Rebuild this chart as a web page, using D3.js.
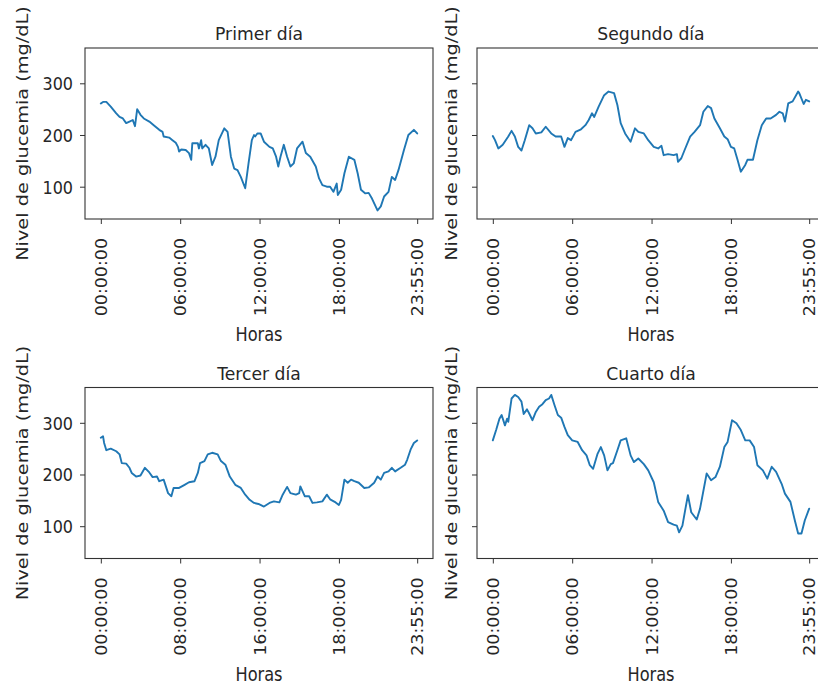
<!DOCTYPE html>
<html>
<head>
<meta charset="utf-8">
<script src="https://cdn.jsdelivr.net/npm/d3@7"></script>
<style>
  body { margin: 0; background: #fff; }
  svg { display: block; }
</style>
</head>
<body>
<svg id="chart" width="818" height="684"></svg>
<script>
// Glucose readings (mg/dL) per day, keyed by 5-minute sample number (0 = 00:00, 287 = 23:55)
const primerMuestra = [0,2,5,9,14,17,20,23,26,29,31,33,36,39,44,48,53,56,57,62,65,68,70,71,73,77,80,82,83,88,89,91,92,95,98,101,104,107,112,115,118,121,124,127,131,134,137,139,140,142,145,148,153,156,159,161,163,166,169,172,175,178,183,186,190,195,198,201,205,208,211,214,215,218,221,225,230,233,236,240,243,246,251,254,257,261,264,267,270,275,279,284,287];
const primerGlucosa = [261,264,264,255,242,235,232,223,226,229,217,250,239,232,226,219,210,206,197,195,190,185,177,168,172,171,165,152,184,184,174,190,174,181,174,142,158,190,213,206,158,135,132,119,97,145,190,200,197,203,203,187,177,174,158,139,158,181,158,139,145,174,187,165,158,139,116,103,100,100,90,106,84,94,126,158,152,126,94,87,88,77,54,62,81,90,119,113,132,171,200,210,203];

const segundoMuestra = [0,2,5,9,14,17,20,23,26,29,33,36,39,44,48,53,57,62,65,68,71,75,80,84,87,90,92,96,101,105,110,113,116,120,125,129,132,137,141,146,150,153,155,159,164,167,168,171,174,179,183,188,191,195,198,201,206,210,213,216,219,222,225,229,231,236,240,244,248,252,257,260,263,265,268,272,277,278,282,284,287];
const segundoGlucosa = [198,190,174,181,197,208,197,177,170,190,219,213,203,205,216,203,197,197,177,194,190,206,211,219,229,242,235,255,277,284,281,258,223,203,187,213,206,203,190,177,174,179,161,163,161,163,148,155,171,197,206,219,245,256,252,232,213,197,192,177,174,152,129,142,152,152,190,219,232,232,239,245,242,226,261,265,284,281,260,268,265];

const tercerMuestra = [0,2,3,5,9,14,17,19,23,26,28,32,36,40,44,47,51,53,57,59,61,64,66,71,76,80,85,88,90,94,97,101,106,109,113,117,122,127,131,135,139,143,148,153,157,162,165,169,172,177,180,181,185,189,192,196,201,205,208,213,216,218,221,224,227,230,234,239,243,248,251,254,257,261,264,267,272,276,278,281,284,287];
const tercerGlucosa = [271,274,261,247,250,245,239,222,221,213,203,196,198,213,204,195,196,187,190,177,164,158,174,174,180,185,187,203,222,226,239,242,239,226,219,196,180,174,161,151,145,143,138,145,148,146,161,176,164,161,164,177,158,158,145,146,148,161,152,146,141,151,190,184,190,187,184,174,175,184,196,190,203,206,213,206,213,219,229,248,261,266];

const cuartoMuestra = [0,3,6,8,11,13,14,17,20,23,26,28,31,33,36,39,42,45,48,51,53,56,59,62,65,68,72,77,81,85,88,91,95,98,101,104,107,109,113,116,121,125,128,132,137,141,146,150,155,159,164,167,169,172,175,177,180,185,188,194,198,202,206,210,213,217,221,225,229,233,237,240,245,249,253,257,262,265,270,274,277,280,283,287];
const cuartoGlucosa = [266,286,308,315,295,308,302,347,354,350,341,317,326,318,305,321,331,336,344,347,354,334,315,310,292,276,266,263,247,237,218,211,240,253,237,208,220,222,247,266,270,237,224,231,220,208,185,147,130,108,103,101,88,101,137,160,127,113,134,202,189,195,215,253,263,305,299,286,266,266,253,218,208,192,215,205,182,163,147,111,86,86,111,134];

// Tick positions (sample numbers) and their labels
const ticksMuestra = [0, 72, 144, 216, 287];
const ticksHoras = ["00:00:00", "06:00:00", "12:00:00", "18:00:00", "23:55:00"];
const ticksHorasTercer = ["00:00:00", "08:00:00", "16:00:00", "18:00:00", "23:55:00"];
const ticksGlucosa = [100, 200, 300];

const titulos = ["Primer día", "Segundo día", "Tercer día", "Cuarto día"];
const etiquetaX = "Horas";
const etiquetaY = "Nivel de glucemia (mg/dL)";

const dias = [
  { titulo: titulos[0], muestra: primerMuestra, glucosa: primerGlucosa, ticks: ticksHoras, col: 0, fila: 0 },
  { titulo: titulos[1], muestra: segundoMuestra, glucosa: segundoGlucosa, ticks: ticksHoras, col: 1, fila: 0 },
  { titulo: titulos[2], muestra: tercerMuestra, glucosa: tercerGlucosa, ticks: ticksHorasTercer, col: 0, fila: 1 },
  { titulo: titulos[3], muestra: cuartoMuestra, glucosa: cuartoGlucosa, ticks: ticksHoras, col: 1, fila: 1 }
];

// Layout
const FONT = "'DejaVu Sans', sans-serif";
const TEXT = "#262626";
const colLeft = [85, 477];
const rowTop = [48, 387.5];
const W = 348, H = 171;

const svg = d3.select("#chart");

// shared scales (sharey across all panels)
const x = d3.scaleLinear().domain([-14.35, 301.35]).range([0, W]);
const y = d3.scaleLinear().domain([37.5, 368.3]).range([H, 0]);

const linea = d3.line()
  .x(d => x(d[0]))
  .y(d => y(d[1]));

dias.forEach(dia => {
  const left = colLeft[dia.col], top = rowTop[dia.fila];
  const g = svg.append("g").attr("transform", `translate(${left},${top})`);

  // data line
  const puntos = d3.zip(dia.muestra, dia.glucosa);
  g.append("path")
    .datum(puntos)
    .attr("d", linea)
    .attr("fill", "none")
    .attr("stroke", "#1f77b4")
    .attr("stroke-width", 1.9)
    .attr("stroke-linejoin", "round")
    .attr("stroke-linecap", "round");

  // y axis: labels only on the left column
  const ejeY = d3.axisLeft(y).tickValues(ticksGlucosa).tickSize(5).tickPadding(7)
    .tickFormat(dia.col === 0 ? d3.format("d") : () => "");
  const gy = g.append("g").call(ejeY);
  gy.select(".domain").remove();
  gy.selectAll(".tick line").attr("stroke", "#333").attr("stroke-width", 1);
  gy.selectAll(".tick text")
    .attr("font-family", FONT).attr("font-size", 16).attr("fill", TEXT)
    .attr("dy", "0.36em")
    .attr("transform", "scale(1,1.12)");

  // x axis with rotated time labels
  const ejeX = d3.axisBottom(x).tickValues(ticksMuestra).tickSize(5)
    .tickFormat((d, i) => dia.ticks[i]);
  const gx = g.append("g").attr("transform", `translate(0,${H})`).call(ejeX);
  gx.select(".domain").remove();
  gx.selectAll(".tick line").attr("stroke", "#333").attr("stroke-width", 1);
  gx.selectAll(".tick text")
    .attr("font-family", FONT).attr("font-size", 16).attr("fill", TEXT)
    .attr("x", 0).attr("y", 0).attr("dy", "0.36em")
    .attr("text-anchor", "end")
    .attr("transform", "translate(0,19) scale(1,1.09) rotate(-90)");

  // frame
  g.append("rect")
    .attr("x", 0).attr("y", 0).attr("width", W).attr("height", H)
    .attr("fill", "none").attr("stroke", "#333").attr("stroke-width", 1.1);

  // title
  g.append("text")
    .attr("transform", `translate(${W / 2},-8) scale(1,1.07)`)
    .attr("text-anchor", "middle")
    .attr("font-family", FONT).attr("font-size", 17.2).attr("fill", TEXT)
    .text(dia.titulo);

  // x label
  g.append("text")
    .attr("transform", `translate(${W / 2},${H + 122}) scale(1,1.16)`)
    .attr("text-anchor", "middle")
    .attr("font-family", FONT).attr("font-size", 16.2).attr("fill", TEXT)
    .text(etiquetaX);

  // y label
  const offY = dia.col === 0 ? -57 : -20;
  g.append("text")
    .attr("transform", `translate(${offY},${H / 2}) scale(1,1.17) rotate(-90)`)
    .attr("text-anchor", "middle")
    .attr("font-family", FONT).attr("font-size", 16.5).attr("fill", TEXT)
    .text(etiquetaY);
});
</script>
</body>
</html>
